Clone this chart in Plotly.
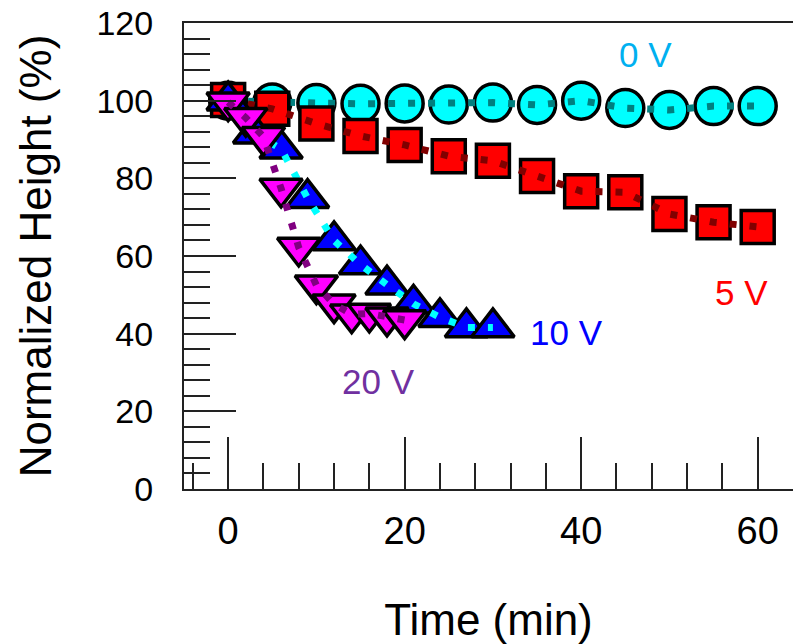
import plotly.graph_objects as go

# ---- data ----
t_0v = [0, 5, 10, 15, 20, 25, 30, 35, 40, 45, 50, 55, 60]
h_0v = [100.0, 99.5, 99.4, 99.2, 99.3, 99.0, 99.5, 98.9, 100.0, 98.1, 97.6, 98.6, 98.6]

t_5v = [0, 5, 10, 15, 20, 25, 30, 35, 40, 45, 50, 55, 60]
h_5v = [100.2, 97.9, 94.1, 90.9, 88.6, 85.7, 84.5, 80.6, 76.7, 76.4, 70.8, 68.7, 67.5]

t_10v = [0, 3, 6, 9, 12, 15, 18, 21, 24, 27, 30]
h_10v = [100.0, 91.5, 87.6, 74.9, 64.0, 57.8, 52.6, 47.7, 44.2, 41.6, 41.6]

t_20v = [0, 2, 4, 6, 8, 10, 12, 14, 16, 18, 20]
h_20v = [99.6, 95.6, 90.7, 77.4, 62.2, 52.5, 47.6, 45.0, 45.2, 44.2, 43.5]

labels = ["0 V", "5 V", "10 V", "20 V"]
label_x = [47.3, 58.2, 38.3, 17.0]
label_y = [111.9, 50.7, 40.4, 27.7]
label_colors = ["#00b0f0", "#ff0000", "#0000ff", "#7030a0"]

FONT = "Liberation Sans, Arial, sans-serif"

series = [
    (t_0v, h_0v, "circle", 37, "#00ffff", "#008080"),
    (t_5v, h_5v, "square", 33, "#ff0000", "#800000"),
    (t_10v, h_10v, "triangle-up", 37, "#0000ff", "#00ffff"),
    (t_20v, h_20v, "triangle-down", 37, "#ff00ff", "#800080"),
]

fig = go.Figure()
for (tx, hy, sym, sz, fill, dotc), name in zip(series, labels):
    fig.add_trace(go.Scatter(
        x=tx, y=hy, mode="markers", name=name, showlegend=False,
        marker=dict(symbol=sym, size=sz, color=fill,
                    line=dict(color="black", width=3.5)),
        cliponaxis=False,
    ))
    fig.add_trace(go.Scatter(
        x=tx, y=hy, mode="lines", name=name + " line", showlegend=False,
        line=dict(color=dotc, width=7, dash="7px,13px"),
    ))

for txt, x, y, c in zip(labels, label_x, label_y, label_colors):
    fig.add_annotation(x=x, y=y, text=txt, showarrow=False,
                       font=dict(family=FONT, size=35, color=c),
                       xanchor="center", yanchor="middle")

tickc = "#222222"
fig.update_xaxes(
    range=[-5, 64], showgrid=False, zeroline=False,
    showline=True, linecolor=tickc, linewidth=2, mirror=True,
    ticks="inside", ticklen=52, tickwidth=2, tickcolor=tickc,
    tick0=0, dtick=20,
    minor=dict(ticks="inside", ticklen=26, tickwidth=2, tickcolor=tickc,
               tick0=0, dtick=4, showgrid=False),
    tickfont=dict(family=FONT, size=38, color="black"),
    ticklabelstandoff=7,
    title=dict(text="Time (min)", font=dict(family=FONT, size=44, color="black"),
               standoff=54),
)
fig.update_yaxes(
    range=[0, 120], showgrid=False, zeroline=False,
    showline=True, linecolor=tickc, linewidth=2, mirror=False,
    ticks="inside", ticklen=52, tickwidth=2, tickcolor=tickc,
    tick0=0, dtick=20,
    minor=dict(ticks="inside", ticklen=26, tickwidth=2, tickcolor=tickc,
               tick0=0, dtick=4, showgrid=False),
    tickfont=dict(family=FONT, size=34, color="black"),
    ticklabelstandoff=22,
    title=dict(text="Normalized Height (%)", font=dict(family=FONT, size=44, color="black"),
               standoff=31),
)

fig.update_layout(
    width=793, height=644,
    margin=dict(l=184, r=0, t=23, b=155, autoexpand=False),
    paper_bgcolor="white", plot_bgcolor="white",
    showlegend=False,
)

fig.write_html("out.html")
